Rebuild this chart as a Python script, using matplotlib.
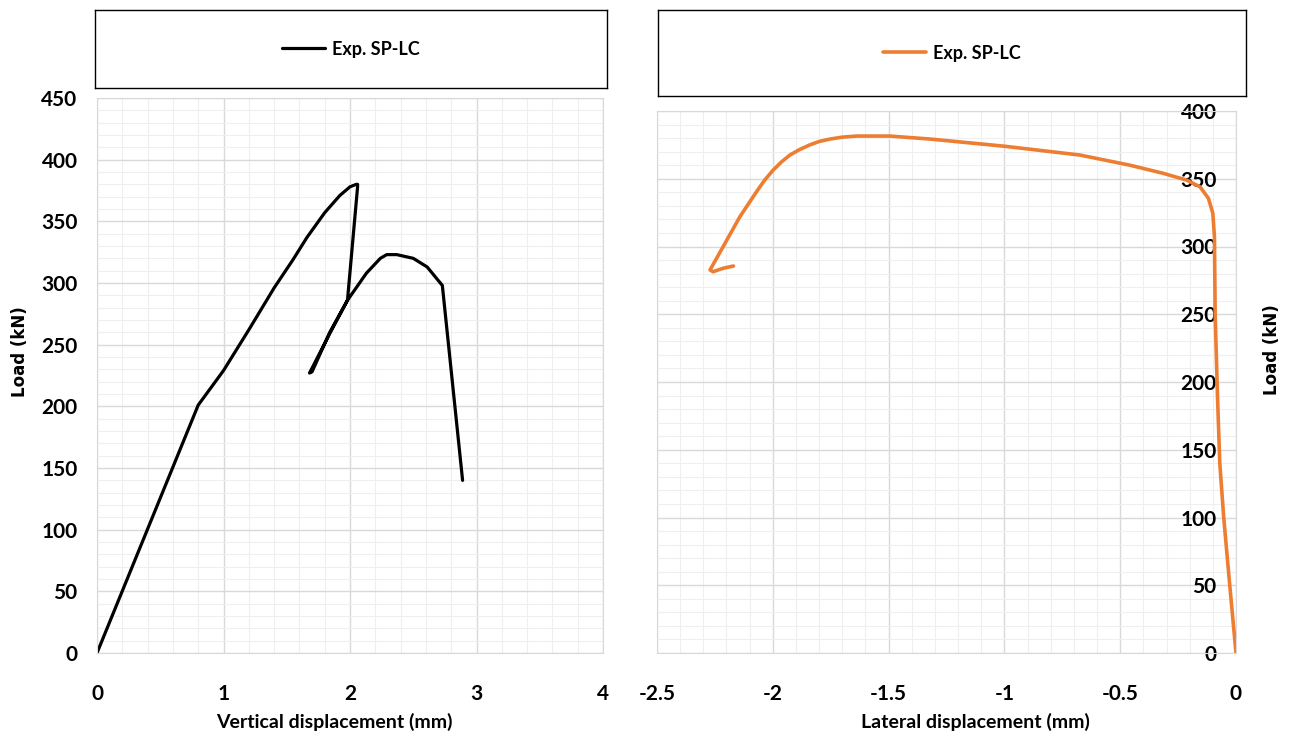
import matplotlib

matplotlib.use("Agg")
import matplotlib.pyplot as plt
from matplotlib.ticker import MultipleLocator

# left chart: vertical displacement (mm) vs load (kN)
vert_disp = [0, 0.80, 1.0, 1.2, 1.4, 1.55, 1.66, 1.80, 1.92, 2.0, 2.05, 2.06, 2.06, 1.98,
             1.84, 1.68, 1.70, 1.84, 1.98, 2.13, 2.24, 2.29, 2.37, 2.50, 2.61, 2.73, 2.89]
vert_load = [0, 201, 229, 262, 296, 319, 337, 357, 371, 378, 380, 380, 378, 286,
             259, 227, 228, 260, 286, 308, 320, 323, 323, 320, 313, 298, 140]

# right chart: lateral displacement (mm) vs load (kN)
lat_disp = [0, -0.027, -0.053, -0.07, -0.08, -0.09, -0.093, -0.10, -0.119, -0.155,
            -0.213, -0.314, -0.458, -0.674, -1.0, -1.321, -1.494, -1.638, -1.70,
            -1.753, -1.80, -1.84, -1.885, -1.926, -1.962, -1.998, -2.035, -2.07,
            -2.105, -2.142, -2.214, -2.271, -2.258, -2.213, -2.17]
lat_load = [0, 50, 100, 140, 190, 250, 307, 324.5, 335.5, 344, 349, 354, 360, 367.5,
            374, 379.3, 381.5, 381.5, 380.7, 379.3, 377.5, 375, 371.5, 367.5, 362.5,
            356.5, 349, 340.5, 331.5, 322, 300, 282.7, 281.4, 284, 285.6]

series_name = "Exp. SP-LC"

FONT = ["Lato", "DejaVu Sans"]
plt.rcParams["font.family"] = FONT
plt.rcParams["font.weight"] = "bold"

fig = plt.figure(figsize=(12.95, 7.46), dpi=100)
W, H = 1295, 746


def frac(x0, y0, x1, y1):
    return [x0 / W, 1 - y1 / H, (x1 - x0) / W, (y1 - y0) / H]


def style_axes(ax):
    ax.grid(True, which="major", color="#d9d9d9", linewidth=1.0)
    ax.grid(True, which="minor", color="#efefef", linewidth=0.8)
    ax.set_axisbelow(True)
    for sp in ax.spines.values():
        sp.set_color("#d9d9d9")
    ax.tick_params(which="both", length=0, labelsize=15)


ax1 = fig.add_axes(frac(97, 98, 603, 653))
line1, = ax1.plot(vert_disp, vert_load, color="black", linewidth=2.3,
                  solid_joinstyle="round", solid_capstyle="round")
ax1.set_xlim(0, 4)
ax1.set_ylim(0, 450)
ax1.xaxis.set_major_locator(MultipleLocator(1))
ax1.xaxis.set_minor_locator(MultipleLocator(0.2))
ax1.yaxis.set_major_locator(MultipleLocator(50))
ax1.yaxis.set_minor_locator(MultipleLocator(10))
style_axes(ax1)
ax1.tick_params(axis="x", pad=22)
ax1.tick_params(axis="y", pad=14)

ax2 = fig.add_axes(frac(657, 111, 1236, 653))
line2, = ax2.plot(lat_disp, lat_load, color="#ED7D31", linewidth=2.6,
                  solid_joinstyle="round", solid_capstyle="round")
ax2.set_xlim(-2.5, 0)
ax2.set_ylim(0, 400)
ax2.xaxis.set_major_locator(MultipleLocator(0.5))
ax2.xaxis.set_minor_locator(MultipleLocator(0.1))
ax2.yaxis.set_major_locator(MultipleLocator(50))
ax2.yaxis.set_minor_locator(MultipleLocator(10))
ax2.xaxis.set_major_formatter(lambda v, p: f"{v:g}")
style_axes(ax2)
ax2.yaxis.tick_right()
ax2.tick_params(axis="x", pad=22)
ax2.tick_params(axis="y", pad=-14)
for lbl in ax2.get_yticklabels():
    lbl.set_horizontalalignment("right")

# axis titles
fig.text(334 / W, 1 - 722 / H, "Vertical displacement (mm)", ha="center", va="center",
         fontsize=14, fontweight="bold")
fig.text(975 / W, 1 - 722 / H, "Lateral displacement (mm)", ha="center", va="center",
         fontsize=14, fontweight="bold")
fig.text(20 / W, 1 - 352 / H, "Load (kN)", rotation=90, ha="center", va="center",
         fontsize=12, fontweight="bold", family="DejaVu Sans")
fig.text(1272 / W, 1 - 350 / H, "Load (kN)", rotation=90, ha="center", va="center",
         fontsize=12, fontweight="bold", family="DejaVu Sans")

# legend boxes above each chart
for box, handle in [((95, 10, 607, 88), line1), ((658, 10, 1246, 96), line2)]:
    lax = fig.add_axes(frac(*box))
    lax.set_xticks([])
    lax.set_yticks([])
    for sp in lax.spines.values():
        sp.set_color("black")
        sp.set_linewidth(1.0)
    lax.legend([handle], [series_name], loc="center", frameon=False,
               prop={"size": 13, "weight": "bold"}, handlelength=2.4,
               handletextpad=0.4)

fig.savefig("out.png", dpi=100)
